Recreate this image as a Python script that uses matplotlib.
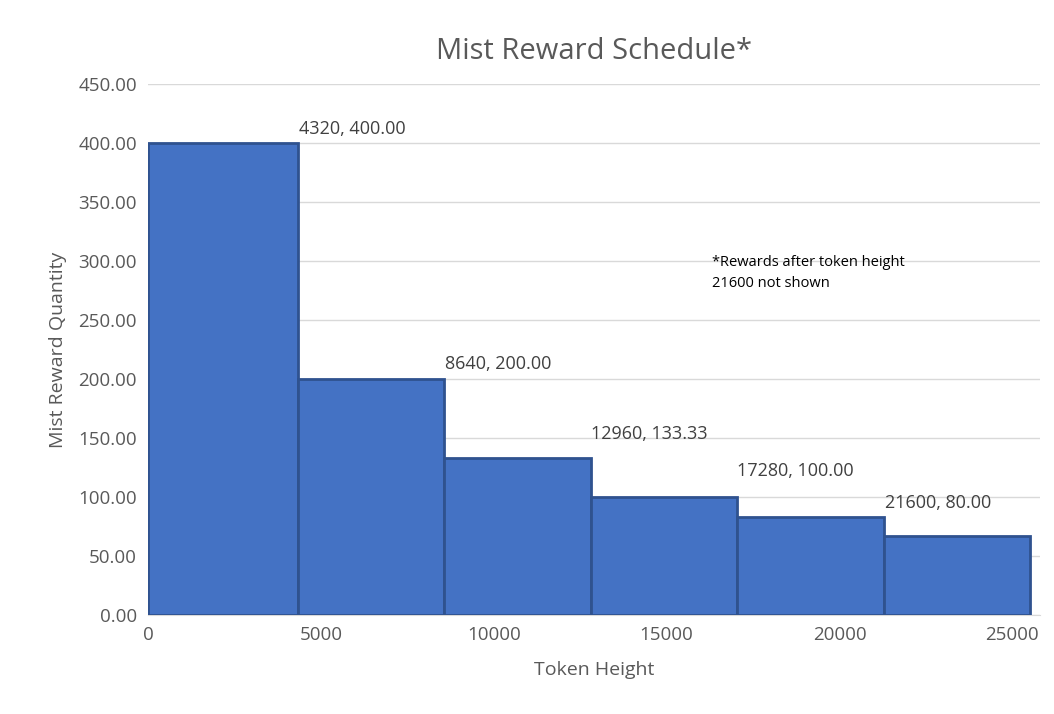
import matplotlib.pyplot as plt

plt.rcParams['font.family'] = ['Open Sans', 'DejaVu Sans']

# bar edges (token height) and reward heights
edges = [0, 4340, 8570, 12800, 17030, 21290, 25520]
rewards = [400.0, 200.0, 133.33, 100.0, 83.33, 66.67]
point_labels = ["4320, 400.00", "8640, 200.00", "12960, 133.33", "17280, 100.00", "21600, 80.00"]
label_y = [404, 205, 146, 114, 87]

fig = plt.figure(figsize=(10.54, 7.14), dpi=100)
ax = fig.add_axes([148/1054, 1 - 615/714, (1040-148)/1054, (615-84)/714])

widths = [edges[i+1] - edges[i] for i in range(len(rewards))]
ax.bar(edges[:-1], rewards, width=widths, align='edge',
       color='#4472C4', edgecolor='#2F528F', linewidth=2, zorder=3)

for i, lab in enumerate(point_labels):
    ax.text(edges[i+1] + 20, label_y[i], lab, fontsize=13, color='#404040',
            va='bottom', ha='left', zorder=4)

ax.text(16300, 290, "*Rewards after token height\n21600 not shown", fontsize=10.5,
        color='black', va='center', ha='left', linespacing=1.5)

ax.set_xlim(0, 25800)
ax.set_ylim(0, 450)
ax.set_xticks(range(0, 25001, 5000))
ax.set_yticks(range(0, 451, 50))
ax.set_yticklabels(["%.2f" % v for v in range(0, 451, 50)])
ax.tick_params(colors='#595959', labelsize=13.5, length=0, pad=8)
ax.grid(axis='y', color='#D9D9D9', linewidth=1, zorder=0)
for s in ['top', 'right', 'left']:
    ax.spines[s].set_visible(False)
ax.spines['bottom'].set_color('#D9D9D9')

ax.set_title("Mist Reward Schedule*", fontsize=21, color='#595959', pad=18)
ax.set_xlabel("Token Height", fontsize=14, color='#595959', labelpad=12)
ax.set_ylabel("Mist Reward Quantity", fontsize=14, color='#595959', labelpad=8)

plt.savefig("out.png", dpi=100)
